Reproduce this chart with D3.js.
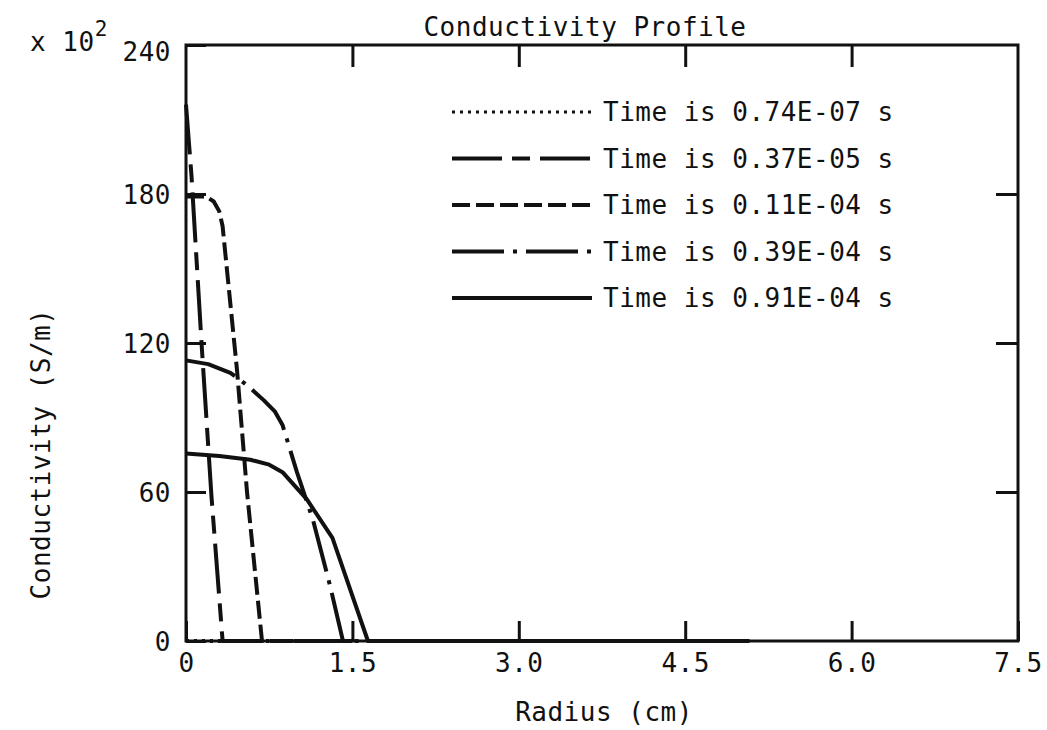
<!DOCTYPE html>
<html>
<head>
<meta charset="utf-8">
<script src="https://cdn.jsdelivr.net/npm/d3@7/dist/d3.min.js"></script>
<style>
  body { margin: 0; background: #fff; }
  text { font-family: "DejaVu Sans Mono", "Liberation Mono", monospace; fill: #111; }
</style>
</head>
<body>
<div class="canvas"></div>
<script>
// data: radius in cm, conductivity in units of 10^2 S/m
const legendLabels = [
    'Time is 0.74E-07 s',
    'Time is 0.37E-05 s',
    'Time is 0.11E-04 s',
    'Time is 0.39E-04 s',
    'Time is 0.91E-04 s'
];

const radiusA = [0, 1.4];
const condA = [0, 0];

const radiusB = [0, 0.05, 0.14, 0.23, 0.33, 1.4];
const condB = [216, 187, 120, 58, 0, 0];

const radiusC = [0, 0.18, 0.25, 0.3, 0.33, 0.46, 0.55, 0.685, 1.5];
const condC = [179, 179, 177, 173, 167, 109, 60, 0, 0];

const radiusD = [0, 0.2, 0.4, 0.55, 0.7, 0.8, 0.87, 1.0, 1.145, 1.3, 1.415, 2.5];
const condD = [113, 111.5, 108, 103, 97, 92.5, 87, 68, 48.7, 22, 0, 0];

const radiusE = [0, 0.3, 0.58, 0.75, 0.87, 1.09, 1.32, 1.64, 5.08];
const condE = [75.5, 74.5, 73, 71, 68, 57, 41.5, 0, 0];

const xTicks = [0, 1.5, 3.0, 4.5, 6.0, 7.5];
const yTicks = [0, 60, 120, 180, 240];

const width = 1047;
const height = 730;

const svg = d3.select('.canvas')
    .append('svg')
    .attr('width', width)
    .attr('height', height);

// plot frame in page pixels
const frameLeft = 186, frameRight = 1018, frameTop = 45, frameBottom = 641;

const x = d3.scaleLinear()
    .domain([0, 7.5])
    .range([frameLeft, frameRight]);

const y = d3.scaleLinear()
    .domain([0, 240])
    .range([frameBottom, frameTop]);

const fontSize = 26;
const spacing = 0.5;

// axes with inward ticks
const xAxis = d3.axisBottom(x)
    .tickValues(xTicks)
    .tickSizeInner(-20)
    .tickSizeOuter(0)
    .tickPadding(13)
    .tickFormat(d => d === 0 ? '0' : d.toFixed(1));

const yAxis = d3.axisLeft(y)
    .tickValues(yTicks)
    .tickSizeInner(-20)
    .tickSizeOuter(0)
    .tickPadding(15)
    .tickFormat(d => d);

const topAxis = d3.axisTop(x)
    .tickValues(xTicks.slice(1, -1))
    .tickSizeInner(-22)
    .tickSizeOuter(0)
    .tickFormat('');

const rightAxis = d3.axisRight(y)
    .tickValues(yTicks.slice(1, -1))
    .tickSizeInner(-22)
    .tickSizeOuter(0)
    .tickFormat('');

const xAxisGroup = svg.append('g')
    .attr('transform', `translate(0, ${frameBottom})`)
    .call(xAxis);
const yAxisGroup = svg.append('g')
    .attr('transform', `translate(${frameLeft}, 0)`)
    .call(yAxis);
const topGroup = svg.append('g')
    .attr('transform', `translate(0, ${frameTop})`)
    .call(topAxis);
const rightGroup = svg.append('g')
    .attr('transform', `translate(${frameRight}, 0)`)
    .call(rightAxis);

[xAxisGroup, yAxisGroup, topGroup, rightGroup].forEach(g => {
    g.select('.domain').remove();
    g.selectAll('.tick line')
        .attr('stroke', '#111')
        .attr('stroke-width', 3);
    g.selectAll('.tick text')
        .attr('font-family', '"DejaVu Sans Mono", monospace')
        .attr('font-size', fontSize)
        .attr('letter-spacing', spacing)
        .attr('fill', '#111');
});

yAxisGroup.selectAll('.tick text')
    .attr('dy', d => d === 240 ? '0.6em' : '0.35em');

// frame
svg.append('rect')
    .attr('x', frameLeft)
    .attr('y', frameTop)
    .attr('width', frameRight - frameLeft)
    .attr('height', frameBottom - frameTop)
    .attr('fill', 'none')
    .attr('stroke', '#111')
    .attr('stroke-width', 3);

// curves
const series = [
    { r: radiusA, v: condA },
    { r: radiusB, v: condB },
    { r: radiusC, v: condC },
    { r: radiusD, v: condD },
    { r: radiusE, v: condE }
];
const dashes = ['3,5', '50,10,18,10', '18,6', '52,9,4,9', null];

const line = d3.line()
    .x(d => x(d[0]))
    .y(d => y(d[1]));

series.forEach((s, i) => {
    const pts = s.r.map((r, j) => [r, s.v[j]]);
    svg.append('path')
        .datum(pts)
        .attr('d', line)
        .attr('fill', 'none')
        .attr('stroke', '#111')
        .attr('stroke-width', 4)
        .attr('stroke-linejoin', 'round')
        .attr('stroke-dasharray', dashes[i]);
});

// legend
const legend = svg.append('g');
legendLabels.forEach((label, i) => {
    const ly = 112 + i * 46.5;
    legend.append('line')
        .attr('x1', 452)
        .attr('x2', 592)
        .attr('y1', ly)
        .attr('y2', ly)
        .attr('stroke', '#111')
        .attr('stroke-width', i === 0 ? 3 : 4)
        .attr('stroke-dasharray', dashes[i]);
    legend.append('text')
        .attr('x', 603)
        .attr('y', ly)
        .attr('dy', '0.35em')
        .attr('font-size', fontSize)
        .attr('letter-spacing', spacing)
        .text(label);
});

// title and axis labels
svg.append('text')
    .attr('x', 585)
    .attr('y', 27)
    .attr('dy', '0.35em')
    .attr('text-anchor', 'middle')
    .attr('font-size', fontSize)
    .attr('letter-spacing', spacing)
    .text('Conductivity Profile');

svg.append('text')
    .attr('x', 604)
    .attr('y', 712)
    .attr('dy', '0.35em')
    .attr('text-anchor', 'middle')
    .attr('font-size', fontSize)
    .attr('letter-spacing', spacing)
    .text('Radius (cm)');

svg.append('text')
    .attr('transform', 'translate(41, 454) rotate(-90)')
    .attr('dy', '0.35em')
    .attr('text-anchor', 'middle')
    .attr('font-size', fontSize)
    .attr('letter-spacing', spacing)
    .text('Conductivity (S/m)');

const mult = svg.append('text')
    .attr('x', 30)
    .attr('y', 51)
    .attr('font-size', fontSize)
    .attr('letter-spacing', spacing);
mult.append('tspan').text('x 10');
mult.append('tspan')
    .attr('dy', -15)
    .attr('font-size', 21)
    .text('2');
</script>
</body>
</html>
